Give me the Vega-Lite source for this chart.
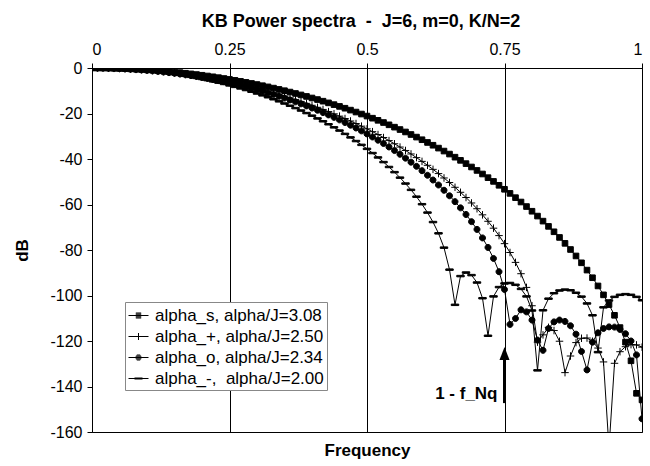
{
  "$schema": "https://vega.github.io/schema/vega-lite/v6.json",
  "width": 550,
  "height": 364,
  "autosize": {"type": "none"},
  "padding": {"left": 92, "top": 68, "right": 8, "bottom": 34},
  "background": "white",
  "title": {"text": "KB Power spectra\u00a0 -\u00a0 J=6, m=0, K/N=2", "font": "Liberation Sans", "fontSize": 18, "fontWeight": "bold", "color": "black", "anchor": "middle", "offset": 10, "dx": -6},
  "config": {
    "view": {"stroke": "black", "strokeWidth": 1},
    "axis": {"labelFont": "Liberation Sans", "titleFont": "Liberation Sans", "labelColor": "black", "titleColor": "black", "domainColor": "black", "tickColor": "black"}
  },
  "datasets": {
    "spectra": [
      {"f":0.00,"s":0,"p":0,"o":0,"m":0},
      {"f":0.01,"s":-0.01,"p":-0.01,"o":-0.01,"m":-0.01},
      {"f":0.02,"s":-0.03,"p":-0.04,"o":-0.04,"m":-0.05},
      {"f":0.03,"s":-0.07,"p":-0.09,"o":-0.09,"m":-0.11},
      {"f":0.04,"s":-0.13,"p":-0.15,"o":-0.16,"m":-0.19},
      {"f":0.05,"s":-0.20,"p":-0.24,"o":-0.26,"m":-0.29},
      {"f":0.06,"s":-0.28,"p":-0.35,"o":-0.37,"m":-0.42},
      {"f":0.07,"s":-0.39,"p":-0.47,"o":-0.50,"m":-0.58},
      {"f":0.08,"s":-0.51,"p":-0.62,"o":-0.66,"m":-0.76},
      {"f":0.09,"s":-0.64,"p":-0.78,"o":-0.83,"m":-0.96},
      {"f":0.10,"s":-0.79,"p":-0.96,"o":-1.03,"m":-1.19},
      {"f":0.11,"s":-0.96,"p":-1.17,"o":-1.24,"m":-1.44},
      {"f":0.12,"s":-1.14,"p":-1.39,"o":-1.48,"m":-1.71},
      {"f":0.13,"s":-1.34,"p":-1.63,"o":-1.74,"m":-2.01},
      {"f":0.14,"s":-1.56,"p":-1.90,"o":-2.02,"m":-2.34},
      {"f":0.15,"s":-1.79,"p":-2.18,"o":-2.32,"m":-2.69},
      {"f":0.16,"s":-2.03,"p":-2.48,"o":-2.64,"m":-3.06},
      {"f":0.17,"s":-2.30,"p":-2.81,"o":-2.99,"m":-3.46},
      {"f":0.18,"s":-2.58,"p":-3.15,"o":-3.35,"m":-3.89},
      {"f":0.19,"s":-2.88,"p":-3.51,"o":-3.74,"m":-4.35},
      {"f":0.20,"s":-3.19,"p":-3.90,"o":-4.15,"m":-4.83},
      {"f":0.21,"s":-3.52,"p":-4.30,"o":-4.59,"m":-5.33},
      {"f":0.22,"s":-3.87,"p":-4.73,"o":-5.05,"m":-5.87},
      {"f":0.23,"s":-4.24,"p":-5.18,"o":-5.53,"m":-6.43},
      {"f":0.24,"s":-4.62,"p":-5.65,"o":-6.03,"m":-7.02},
      {"f":0.25,"s":-5.02,"p":-6.15,"o":-6.56,"m":-7.65},
      {"f":0.26,"s":-5.43,"p":-6.66,"o":-7.11,"m":-8.30},
      {"f":0.27,"s":-5.87,"p":-7.20,"o":-7.68,"m":-8.98},
      {"f":0.28,"s":-6.32,"p":-7.76,"o":-8.28,"m":-9.69},
      {"f":0.29,"s":-6.79,"p":-8.34,"o":-8.91,"m":-10.43},
      {"f":0.30,"s":-7.27,"p":-8.95,"o":-9.56,"m":-11.21},
      {"f":0.31,"s":-7.78,"p":-9.58,"o":-10.24,"m":-12.02},
      {"f":0.32,"s":-8.30,"p":-10.23,"o":-10.94,"m":-12.86},
      {"f":0.33,"s":-8.84,"p":-10.91,"o":-11.67,"m":-13.74},
      {"f":0.34,"s":-9.41,"p":-11.62,"o":-12.43,"m":-14.65},
      {"f":0.35,"s":-9.98,"p":-12.34,"o":-13.22,"m":-15.61},
      {"f":0.36,"s":-10.58,"p":-13.10,"o":-14.03,"m":-16.59},
      {"f":0.37,"s":-11.20,"p":-13.88,"o":-14.88,"m":-17.62},
      {"f":0.38,"s":-11.84,"p":-14.69,"o":-15.76,"m":-18.69},
      {"f":0.39,"s":-12.50,"p":-15.53,"o":-16.66,"m":-19.81},
      {"f":0.40,"s":-13.18,"p":-16.39,"o":-17.60,"m":-20.96},
      {"f":0.41,"s":-13.87,"p":-17.28,"o":-18.57,"m":-22.17},
      {"f":0.42,"s":-14.59,"p":-18.21,"o":-19.58,"m":-23.42},
      {"f":0.43,"s":-15.33,"p":-19.16,"o":-20.61,"m":-24.73},
      {"f":0.44,"s":-16.10,"p":-20.14,"o":-21.69,"m":-26.08},
      {"f":0.45,"s":-16.88,"p":-21.16,"o":-22.80,"m":-27.50},
      {"f":0.46,"s":-17.68,"p":-22.21,"o":-23.95,"m":-28.97},
      {"f":0.47,"s":-18.51,"p":-23.29,"o":-25.14,"m":-30.51},
      {"f":0.48,"s":-19.36,"p":-24.41,"o":-26.37,"m":-32.11},
      {"f":0.49,"s":-20.24,"p":-25.56,"o":-27.64,"m":-33.79},
      {"f":0.50,"s":-21.13,"p":-26.75,"o":-28.96,"m":-35.55},
      {"f":0.51,"s":-22.06,"p":-27.98,"o":-30.32,"m":-37.39},
      {"f":0.52,"s":-23.00,"p":-29.25,"o":-31.73,"m":-39.32},
      {"f":0.53,"s":-23.97,"p":-30.56,"o":-33.20,"m":-41.36},
      {"f":0.54,"s":-24.97,"p":-31.91,"o":-34.71,"m":-43.51},
      {"f":0.55,"s":-26.00,"p":-33.31,"o":-36.29,"m":-45.78},
      {"f":0.56,"s":-27.05,"p":-34.75,"o":-37.92,"m":-48.20},
      {"f":0.57,"s":-28.12,"p":-36.25,"o":-39.62,"m":-50.79},
      {"f":0.58,"s":-29.23,"p":-37.79,"o":-41.39,"m":-53.56},
      {"f":0.59,"s":-30.37,"p":-39.39,"o":-43.22,"m":-56.57},
      {"f":0.60,"s":-31.53,"p":-41.05,"o":-45.14,"m":-59.87},
      {"f":0.61,"s":-32.73,"p":-42.77,"o":-47.14,"m":-63.55},
      {"f":0.62,"s":-33.95,"p":-44.55,"o":-49.24,"m":-67.72},
      {"f":0.63,"s":-35.21,"p":-46.41,"o":-51.43,"m":-72.67},
      {"f":0.64,"s":-36.51,"p":-48.34,"o":-53.74,"m":-78.97},
      {"f":0.65,"s":-37.83,"p":-50.34,"o":-56.17,"m":-88.64},
      {"f":0.66,"s":-39.20,"p":-52.44,"o":-58.74,"m":-104.1},
      {"f":0.67,"s":-40.60,"p":-54.63,"o":-61.48,"m":-91.47},
      {"f":0.68,"s":-42.03,"p":-56.92,"o":-64.39,"m":-89.9},
      {"f":0.69,"s":-43.51,"p":-59.33,"o":-67.53,"m":-91.04},
      {"f":0.70,"s":-45.03,"p":-61.86,"o":-70.94,"m":-94.3},
      {"f":0.71,"s":-46.59,"p":-64.54,"o":-74.69,"m":-101.2},
      {"f":0.72,"s":-48.20,"p":-67.38,"o":-78.88,"m":-117.7},
      {"f":0.73,"s":-49.85,"p":-70.41,"o":-83.71,"m":-100.4},
      {"f":0.74,"s":-51.56,"p":-73.67,"o":-89.54,"m":-96.3},
      {"f":0.75,"s":-53.31,"p":-77.21,"o":-97.36,"m":-94.7},
      {"f":0.76,"s":-55.12,"p":-81.10,"o":-112.7,"m":-94.5},
      {"f":0.77,"s":-56.99,"p":-85.44,"o":-110.1,"m":-95.3},
      {"f":0.78,"s":-58.91,"p":-90.42,"o":-106.3,"m":-97.1},
      {"f":0.79,"s":-60.90,"p":-96.44,"o":-107.2,"m":-100.4},
      {"f":0.80,"s":-62.96,"p":-104.5,"o":-110.8,"m":-106.6},
      {"f":0.81,"s":-65.09,"p":-120.5,"o":-119.6,"m":-132.9},
      {"f":0.82,"s":-67.31,"p":-117.3,"o":-124.1,"m":-106.5},
      {"f":0.83,"s":-69.62,"p":-114.0,"o":-114.5,"m":-101.4},
      {"f":0.84,"s":-71.99,"p":-115.4,"o":-111.6,"m":-99.0},
      {"f":0.85,"s":-74.48,"p":-120.1,"o":-110.8,"m":-97.8},
      {"f":0.86,"s":-77.08,"p":-133.9,"o":-111.4,"m":-97.4},
      {"f":0.87,"s":-79.78,"p":-126.6,"o":-113.3,"m":-97.7},
      {"f":0.88,"s":-82.62,"p":-120.7,"o":-117.0,"m":-98.8},
      {"f":0.89,"s":-85.63,"p":-118.8,"o":-124.6,"m":-100.5},
      {"f":0.90,"s":-88.83,"p":-118.7,"o":-132.7,"m":-103.5},
      {"f":0.91,"s":-92.19,"p":-120.1,"o":-120.5,"m":-108.7},
      {"f":0.92,"s":-95.80,"p":-123.1,"o":-116.4,"m":-124.9},
      {"f":0.93,"s":-99.72,"p":-129.2,"o":-114.5,"m":-105.2},
      {"f":0.94,"s":-104.0,"p":-167.0,"o":-113.8,"m":-102.2},
      {"f":0.95,"s":-108.7,"p":-129.8,"o":-113.9,"m":-100.6},
      {"f":0.96,"s":-114.1,"p":-124.7,"o":-114.9,"m":-99.7},
      {"f":0.97,"s":-120.5,"p":-122.5,"o":-116.8,"m":-99.4},
      {"f":0.98,"s":-128.7,"p":-121.6,"o":-120.0,"m":-99.7},
      {"f":0.99,"s":-143.0,"p":-121.7,"o":-126.1,"m":-100.6},
      {"f":1.00,"s":-145.9,"p":-122.7,"o":-154.2,"m":-102.1}
    ],
    "arrow": [{"f": 0.75, "top": -127, "bottom": -147.3, "tip": -125.5}],
    "note": [{"f": 0.75, "dB": -145.5, "label": "1 - f_Nq"}]
  },
  "layer": [
    {
      "data": {"name": "spectra"},
      "transform": [{"fold": ["s", "p", "o", "m"], "as": ["series", "dB"]}],
      "mark": {"type": "line", "stroke": "black", "strokeWidth": 1, "clip": true},
      "encoding": {
        "x": {"field": "f", "type": "quantitative", "scale": {"domain": [0, 1], "nice": false, "zero": false},
          "axis": {"orient": "top", "values": [0, 0.25, 0.5, 0.75, 1], "labelExpr": "datum.value + ''", "title": null, "grid": true, "gridColor": "black", "gridOpacity": 1, "gridWidth": 1, "tickSize": 5, "labelFontSize": 16, "labelPadding": 6}},
        "y": {"field": "dB", "type": "quantitative", "scale": {"domain": [-160, 0], "nice": false},
          "axis": {"values": [0, -20, -40, -60, -80, -100, -120, -140, -160], "labelExpr": "datum.value + ''", "grid": false, "tickSize": 5, "labelFontSize": 16, "labelPadding": 5, "title": "dB", "titleFontSize": 17, "titleFontWeight": "bold", "titlePadding": 18}},
        "detail": {"field": "series", "type": "nominal"}
      }
    },
    {
      "data": {"name": "spectra"},
      "transform": [{"fold": ["s", "p", "o", "m"], "as": ["series", "dB"]}],
      "mark": {"type": "point", "filled": true, "fill": "black", "stroke": "black", "strokeWidth": 1, "opacity": 1, "size": 56, "clip": true},
      "encoding": {
        "x": {"field": "f", "type": "quantitative", "axis": null},
        "y": {"field": "dB", "type": "quantitative", "axis": null},
        "shape": {"field": "series", "type": "nominal", "legend": null,
          "scale": {"domain": ["s", "p", "o", "m"], "range": ["M-0.75,-0.75H0.75V0.75H-0.75Z", "M-1,0H1M0,-1V1", "M0.8,0A0.8,0.8 0 1 1 -0.8,0A0.8,0.8 0 1 1 0.8,0Z", "M-1,-0.2H1V0.2H-1Z"]}
        }
      }
    },
    {
      "data": {"name": "spectra"},
      "transform": [{"fold": ["s", "p", "o", "m"], "as": ["series", "dB"]}],
      "mark": {"type": "point", "filled": false, "color": "black", "strokeWidth": 1, "opacity": 0, "size": 1},
      "encoding": {
        "x": {"field": "f", "type": "quantitative", "axis": null},
        "y": {"field": "dB", "type": "quantitative", "axis": null},
        "shape": {"field": "series", "type": "nominal",
          "scale": {"domain": ["s", "p", "o", "m"], "range": [
            "M-1,0H1M-0.27,-0.25H0.27M-0.27,-0.15H0.27M-0.27,-0.05H0.27M-0.27,0.05H0.27M-0.27,0.15H0.27M-0.27,0.25H0.27",
            "M-1,0H1M0,-0.35V0.35",
            "M-1,0H1M-0.17,-0.25H0.17M-0.26,-0.15H0.26M-0.3,-0.05H0.3M-0.3,0.05H0.3M-0.26,0.15H0.26M-0.17,0.25H0.17",
            "M-1,0H1M-0.4,-0.05H0.4M-0.4,0.05H0.4"]},
          "legend": {
            "orient": "none", "legendX": 33, "legendY": 234, "title": null,
            "labelExpr": "datum.value === 's' ? 'alpha_s, alpha/J=3.08' : datum.value === 'p' ? 'alpha_+, alpha/J=2.50' : datum.value === 'o' ? 'alpha_o, alpha/J=2.34' : 'alpha_-,\u00a0 alpha/J=2.00'",
            "labelFont": "Liberation Sans", "labelFontSize": 17, "labelColor": "black", "labelOffset": 6, "labelLimit": 300,
            "symbolSize": 400, "symbolStrokeWidth": 1, "symbolStrokeColor": "black", "symbolOpacity": 1,
            "strokeColor": "#888888", "fillColor": "white", "padding": 3, "rowPadding": 2
          }
        }
      }
    },
    {
      "data": {"name": "arrow"},
      "mark": {"type": "rule", "strokeWidth": 3, "color": "black"},
      "encoding": {
        "x": {"field": "f", "type": "quantitative", "axis": null},
        "y": {"field": "top", "type": "quantitative", "axis": null},
        "y2": {"field": "bottom"}
      }
    },
    {
      "data": {"name": "arrow"},
      "mark": {"type": "point", "shape": "M0,-0.65L0.5,0.65L-0.5,0.65Z", "size": 400, "filled": true, "color": "black", "opacity": 1},
      "encoding": {
        "x": {"field": "f", "type": "quantitative", "axis": null},
        "y": {"field": "tip", "type": "quantitative", "axis": null}
      }
    },
    {
      "data": {"name": "note"},
      "mark": {"type": "text", "font": "Liberation Sans", "fontSize": 17, "fontWeight": "bold", "align": "right", "baseline": "alphabetic", "dx": -7, "color": "black"},
      "encoding": {
        "x": {"field": "f", "type": "quantitative",
          "axis": {"orient": "bottom", "title": "Frequency", "labels": false, "ticks": false, "domain": false, "grid": false, "titleFontSize": 17, "titleFontWeight": "bold", "titlePadding": 10}},
        "y": {"field": "dB", "type": "quantitative", "axis": null},
        "text": {"field": "label"}
      }
    }
  ],
  "resolve": {"axis": {"x": "independent", "y": "independent"}, "scale": {"shape": "independent"}}
}
